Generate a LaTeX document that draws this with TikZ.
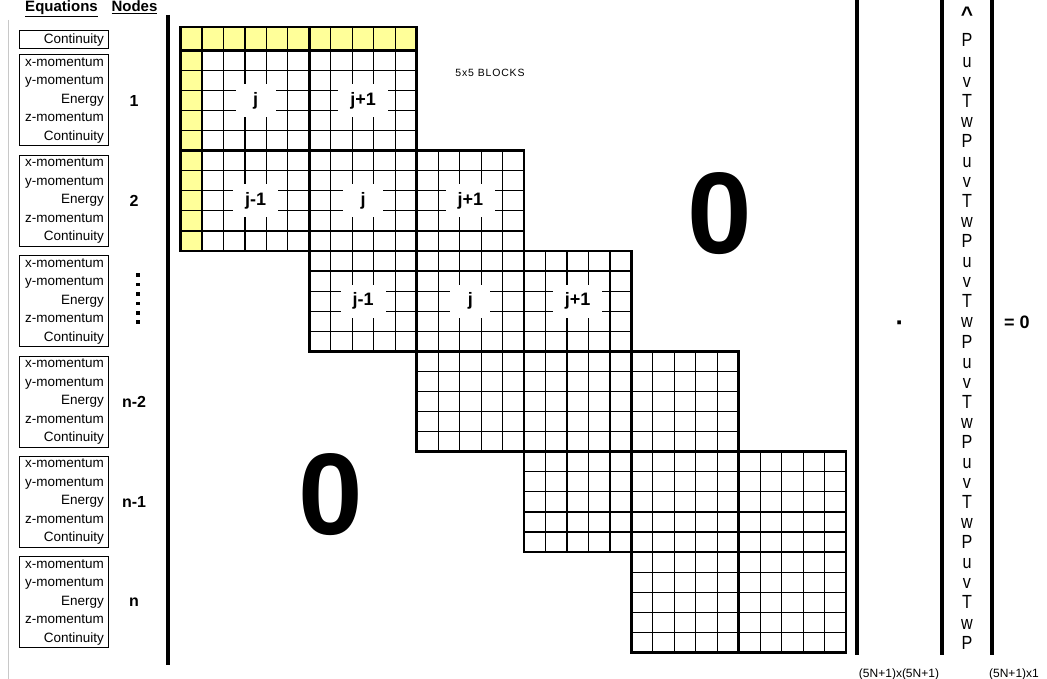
\documentclass[tikz,border=0pt]{standalone}
\usepackage{fontspec}
\setmainfont{Liberation Sans}
\newfontfamily\vecfont[FakeStretch=0.85]{Liberation Sans}
\newfontfamily\tagfont[LetterSpace=8]{Liberation Sans}
\usepackage{xcolor}
\definecolor{yelc}{HTML}{FFFF99}
\definecolor{framec}{HTML}{C8C8C8}
\usepackage{tikz}
\usetikzlibrary{positioning,calc}
\newcommand{\cellw}{21.47}
\newcommand{\cellh}{20.07}
\newcommand{\blkw}{107.35}
\newcommand{\blkh}{100.35}
\tikzset{
  cellline/.style={line width=1.2pt},
  blockline/.style={line width=2.6pt},
  bar/.style={line width=3.2pt},
  eqbox/.style={draw,line width=1pt,text width=81pt,align=right,minimum height=91pt,inner xsep=4pt,inner ysep=1pt,font=\fontsize{13.5}{18.5}\selectfont},
  cbox/.style={draw,line width=1pt,text width=81pt,align=right,minimum height=18pt,inner xsep=4pt,inner ysep=0pt,font=\fontsize{13.5}{15}\selectfont},
  nlab/.style={font=\bfseries\fontsize{16}{16}\selectfont},
  head/.style={font=\bfseries\fontsize{15}{15}\selectfont,anchor=base,inner sep=0pt},
  blab/.style={fill=white,inner xsep=12pt,inner ysep=8pt,minimum width=40pt,font=\bfseries\fontsize{18}{18}\selectfont},
  zero/.style={font=\bfseries\fontsize{116}{116}\selectfont,inner sep=0pt},
  vlet/.style={font=\vecfont\fontsize{19}{19}\selectfont,anchor=base,inner sep=0pt},
  dimtxt/.style={font=\fontsize{12}{12}\selectfont,anchor=base,inner sep=0pt},
  blk/.pic={
    \foreach \k in {1,...,4} {
      \draw[cellline] (\k*\cellw,0) -- (\k*\cellw,\blkh);
      \draw[cellline] (0,\k*\cellh) -- (\blkw,\k*\cellh);
    }
    \draw[blockline] (0,0) rectangle (\blkw,\blkh);
  },
}
\begin{document}
\begin{tikzpicture}[x=1pt,y=-1pt]
  \useasboundingbox (0,0) rectangle (1047,679);
  \draw[framec,line width=1pt] (8.5,20) -- (8.5,679);
  % headers
  \node[head] (heq) at (61.5,12) {\underline{Equations}};
  \node[head] (hnd) at (134.5,12) {\underline{Nodes}};
  % equation boxes
  \node[cbox] (eqc) at (63.5,40) {Continuity};
  \foreach \r/\n in {0/1,1/2,3/{n-2},4/{n-1},5/n} {
    \node[eqbox] (eq\r) at (63.5,100.5+\r*\blkh) {x-momentum\\y-momentum\\Energy\\z-momentum\\Continuity};
    \node[nlab] (nd\r) at (134,100.5+\r*\blkh) {\n};
  }
  \node[eqbox] (eq2) at (63.5,100.5+2*\blkh) {x-momentum\\y-momentum\\Energy\\z-momentum\\Continuity};
  \foreach \k in {0,...,5}
    \fill (136.3,273.3+\k*9.4) rectangle ++(3.6,3.6);
  % yellow border row/column
  \fill[yelc] (180.5,27) rectangle (202+2*\blkw,50.3);
  \fill[yelc] (180.5,27) rectangle (202,50.3+2*\blkh);
  \foreach \k in {1,...,9} {
    \draw[cellline] (202+\k*\cellw,27) -- (202+\k*\cellw,50.3);
    \draw[cellline] (180.5,50.3+\k*\cellh) -- (202,50.3+\k*\cellh);
  }
  \draw[blockline] (180.5,27) rectangle (202+2*\blkw,50.3);
  \draw[blockline] (180.5,27) rectangle (202,50.3+2*\blkh);
  \draw[blockline] (202+\blkw,27) -- (202+\blkw,50.3);
  \draw[blockline] (180.5,50.3+\blkh) -- (202,50.3+\blkh);
  % 5x5 blocks
  \foreach \r/\c in {0/0,0/1,1/0,1/1,1/2,2/1,2/2,2/3,3/2,3/3,3/4,4/3,4/4,4/5,5/4,5/5}
    \pic at (202+\c*\blkw,50.3+\r*\blkh) {blk};
  \foreach \r/\c/\t in {0/0/j,0/1/{j+1},1/0/{j-1},1/1/j,1/2/{j+1},2/1/{j-1},2/2/j,2/3/{j+1}}
    \node[blab] (b\r\c) at (202+\c*\blkw+\blkw/2,50.3+\r*\blkh+\blkh/2) {\t};
  \node[font=\tagfont\fontsize{10.5}{10.5}\selectfont] (tag) at (490,73) {5x5 BLOCKS};
  \node[zero] (zup) at (720,214) {0};
  \node[zero] (zlow) at (331,495) {0};
  % brackets
  \draw[bar] (168,15) -- (168,665);
  \foreach \x in {857,942,992}
    \draw[bar] (\x,-2) -- (\x,655);
  % unknown vector
  \node[font=\bfseries\fontsize{21}{21}\selectfont,anchor=base,inner sep=0pt] (hat) at (967,21.5) {\textasciicircum};
  \node[vlet] (v0) at (967,47) {P};
  \foreach \r in {0,...,5}
    \foreach \l [count=\k] in {u,v,T,w,P}
      \node[vlet] (v\r\k) at (967,47+\r*\blkh+\k*\cellh) {\l};
  \node[font=\bfseries\fontsize{26}{26}\selectfont,anchor=base,inner sep=0pt] (dotp) at (900,331) {·};
  \node[font=\bfseries\fontsize{18}{18}\selectfont,anchor=base,inner sep=0pt] (eqz) at (1017,328.5) {= 0};
  \node[dimtxt] (dimA) at (899,677) {(5N+1)x(5N+1)};
  \node[dimtxt] (dimB) at (1014,677) {(5N+1)x1};
\end{tikzpicture}
\end{document}
